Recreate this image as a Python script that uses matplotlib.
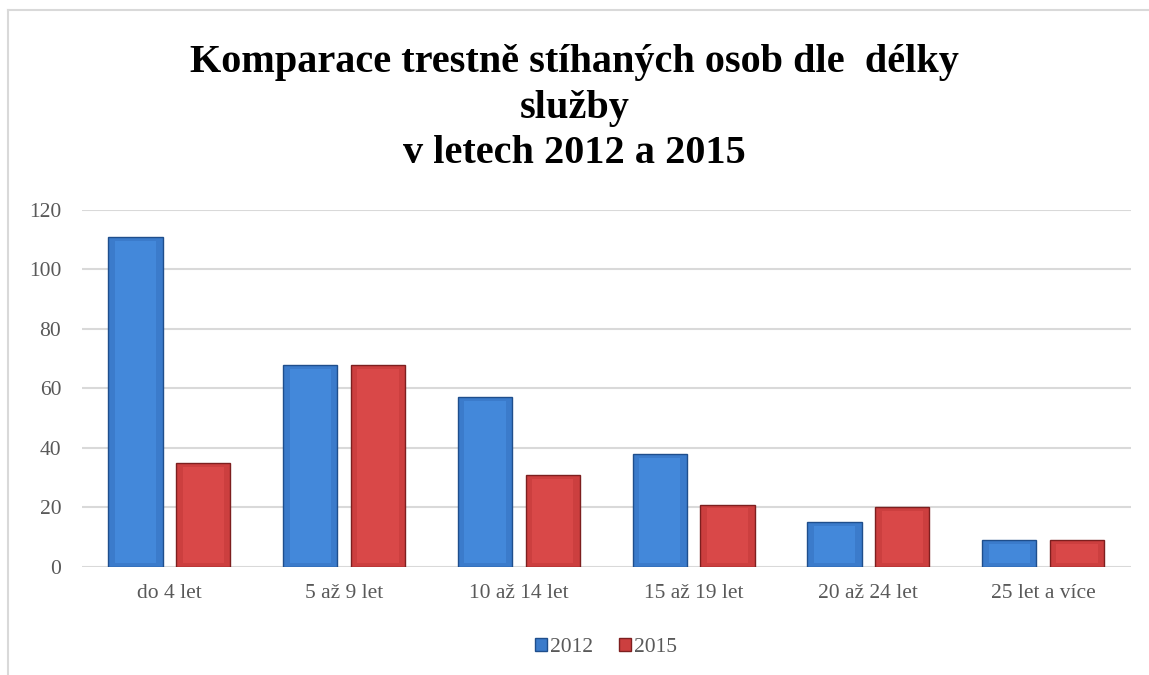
import matplotlib.pyplot as plt
import numpy as np
from matplotlib.patches import Rectangle

plt.rcParams['font.family'] = ['Liberation Serif', 'DejaVu Serif']

categories = ["do 4 let", "5 až 9 let", "10 až 14 let", "15 až 19 let", "20 až 24 let", "25 let a více"]
values_2012 = [111, 68, 57, 38, 15, 9]
values_2015 = [35, 68, 31, 21, 20, 9]
series_names = ["2012", "2015"]

blue = "#3b7bcb"
red = "#cc3f3f"

fig = plt.figure(figsize=(11.49, 6.75), dpi=100)
ax = fig.add_axes([0.0714, 0.16, 0.9125, 0.529])

x = np.arange(len(categories))
w = 0.31
off = 0.194
b1 = ax.bar(x - off, values_2012, w, color=blue, edgecolor="#1f4e8c", linewidth=1.0,
            label=series_names[0], zorder=3)
b2 = ax.bar(x + off, values_2015, w, color=red, edgecolor="#7d1f1f", linewidth=1.0,
            label=series_names[1], zorder=3)

# lighter inner face for a bevel look
for bars, col in ((b1, "#4388da"), (b2, "#d94848")):
    for b in bars:
        bx, by = b.get_x(), b.get_y()
        bw, bh = b.get_width(), b.get_height()
        inset = min(2.2, bh * 0.25)
        ax.add_patch(Rectangle((bx + bw * 0.12, by + inset * 0.6), bw * 0.76, bh - inset * 1.2,
                               facecolor=col, edgecolor="none", zorder=4))

ax.set_xlim(-0.5, len(categories) - 0.5)
ax.set_ylim(0, 120)
ax.set_yticks(range(0, 121, 20))
ax.set_xticks(x)
ax.set_xticklabels(categories)
ax.yaxis.grid(True, color="#d9d9d9", linewidth=1.5, zorder=0)
ax.set_axisbelow(True)
for s in ax.spines.values():
    s.set_visible(False)
ax.tick_params(axis="both", length=0, labelsize=15.5, colors="#595959")
ax.tick_params(axis="x", pad=12)
ax.tick_params(axis="y", pad=15)

fig.text(0.5, 0.8395, "Komparace trestně stíhaných osob dle  délky\nslužby\nv letech 2012 a 2015",
         ha="center", va="center", fontsize=29, fontweight="bold", linespacing=1.3)

leg = ax.legend(loc="upper center", bbox_to_anchor=(0.5, -0.145), ncol=2, frameon=False,
                fontsize=15.5, handlelength=0.55, handleheight=0.55, handletextpad=0.15,
                columnspacing=1.2)
for t in leg.get_texts():
    t.set_color("#595959")

# chart border (left and top edges visible)
fig.add_artist(plt.Line2D([8 / 1149, 8 / 1149], [0, 1 - 10 / 675], color="#d9d9d9", linewidth=1.5,
                          transform=fig.transFigure))
fig.add_artist(plt.Line2D([8 / 1149, 1], [1 - 10 / 675, 1 - 10 / 675], color="#d9d9d9", linewidth=1.5,
                          transform=fig.transFigure))

fig.savefig("out.png", dpi=100)
